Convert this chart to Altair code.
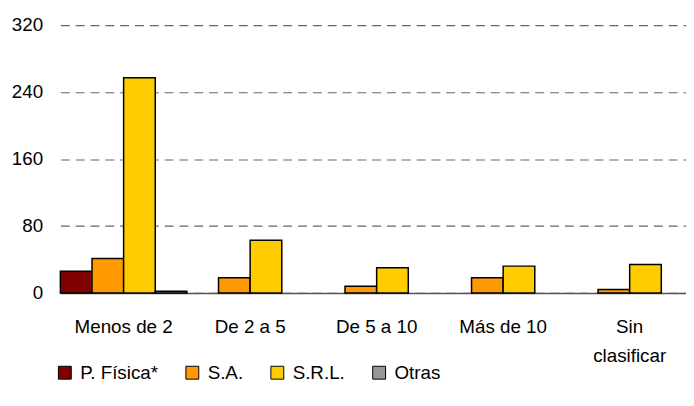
import altair as alt
import pandas as pd

categories = ["Menos de 2", "De 2 a 5", "De 5 a 10", "Más de 10", "Sin clasificar"]
series = ["P. Física*", "S.A.", "S.R.L.", "Otras"]
p_fisica = [26, 0, 0, 0, 0]
sa = [41, 18, 8, 18, 4]
srl = [257, 63, 30, 32, 34]
otras = [2, 0, 0, 0, 0]
colors = ["#800000", "#FF9900", "#FFCC00", "#969696"]

rows = []
for name, vals in zip(series, [p_fisica, sa, srl, otras]):
    for c, v in zip(categories, vals):
        rows.append({"cat": c, "serie": name, "valor": v})
df = pd.DataFrame(rows)

FONT = "Liberation Sans"
FS = 19

chart = (
    alt.Chart(df)
    .transform_filter("datum.valor > 0")
    .mark_bar(stroke="black", strokeWidth=1.5)
    .encode(
        x=alt.X(
            "cat:N",
            sort=categories,
            scale=alt.Scale(paddingInner=0, paddingOuter=0),
            axis=alt.Axis(
                title=None,
                labelAngle=0,
                ticks=False,
                grid=False,
                domainColor="#555555",
                domainWidth=1.5,
                labelPadding=25,
                labelFont=FONT,
                labelFontSize=FS,
                labelColor="black",
                labelLineHeight=29,
                labelBaseline="top",
                labelExpr="datum.label == 'Sin clasificar' ? ['Sin', 'clasificar'] : datum.label",
            ),
        ),
        xOffset=alt.XOffset("serie:N", sort=series, scale=alt.Scale(paddingInner=0, paddingOuter=0)),
        y=alt.Y(
            "valor:Q",
            scale=alt.Scale(domain=[0, 320], nice=False),
            axis=alt.Axis(
                title=None,
                values=[0, 80, 160, 240, 320],
                domain=False,
                ticks=False,
                labelPadding=18,
                labelFont=FONT,
                labelFontSize=FS,
                labelColor="black",
                grid=True,
                gridColor="#666666",
                gridDash=[9, 6],
                gridWidth=1.2,
            ),
        ),
        color=alt.Color(
            "serie:N",
            sort=series,
            scale=alt.Scale(domain=series, range=colors),
            legend=alt.Legend(
                title=None,
                orient="none",
                direction="horizontal",
                legendX=-5,
                legendY=342,
                symbolType="square",
                symbolSize=170,
                symbolStrokeColor="black",
                symbolStrokeWidth=1,
                symbolOpacity=1,
                labelFont=FONT,
                labelFontSize=FS,
                labelColor="black",
                columnPadding=25,
                labelOffset=6,
            ),
        ),
    )
    .properties(
        width=640,
        height=271,
        autosize=alt.AutoSizeParams(type="none"),
        padding={"left": 53, "top": 15, "right": -7, "bottom": 99},
    )
    .configure_view(stroke=None)
    .configure_axis(grid=False)
    .configure_axisY(grid=True)
)

chart.save("out.html", embed_options={"renderer": "svg", "actions": False})
